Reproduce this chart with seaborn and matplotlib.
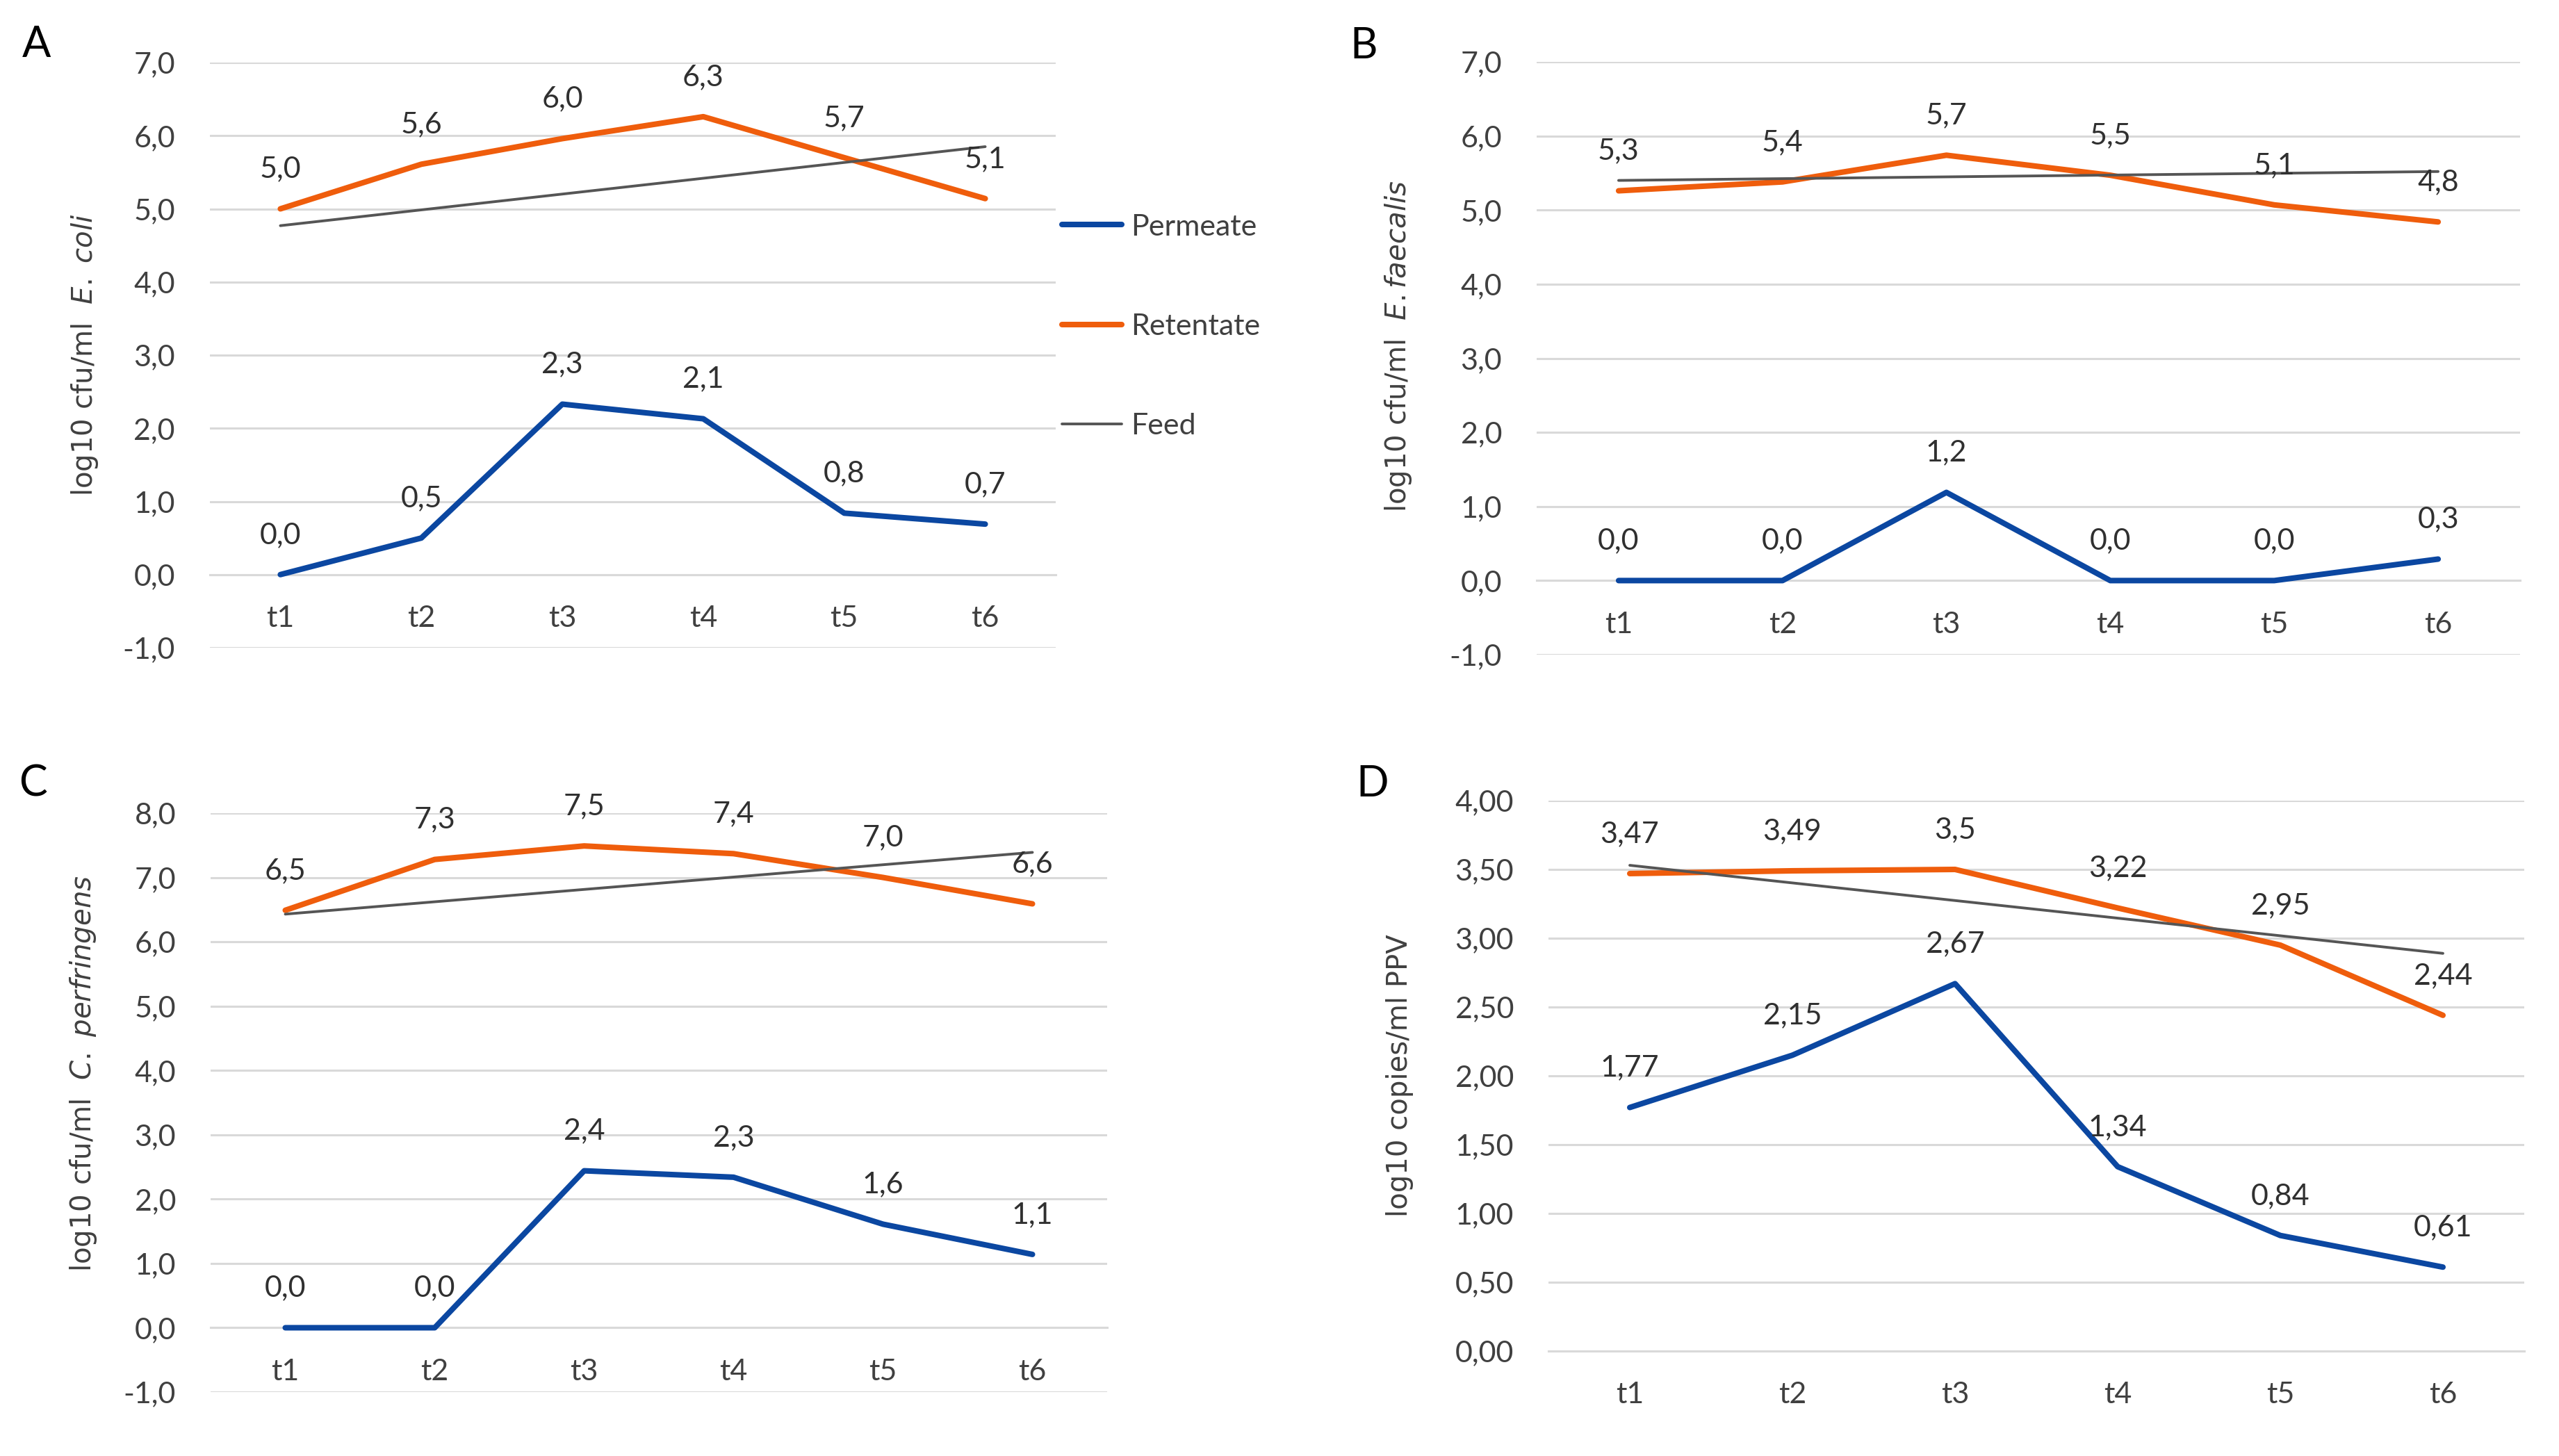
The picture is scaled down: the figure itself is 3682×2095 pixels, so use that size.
import matplotlib
matplotlib.use("Agg")
import matplotlib.pyplot as plt
import seaborn as sns
from matplotlib.ticker import FuncFormatter, MultipleLocator

# time points
times = ["t1", "t2", "t3", "t4", "t5", "t6"]
feed_times = ["t1", "t6"]

# A - E. coli
perm_A = [0.0, 0.50, 2.33, 2.13, 0.84, 0.69]
ret_A = [5.0, 5.61, 5.96, 6.26, 5.70, 5.14]
feed_A = [4.77, 5.85]

# B - E. faecalis
perm_B = [0.0, 0.0, 1.19, 0.0, 0.0, 0.29]
ret_B = [5.26, 5.38, 5.74, 5.47, 5.07, 4.84]
feed_B = [5.40, 5.52]

# C - C. perfringens
perm_C = [0.0, 0.0, 2.44, 2.34, 1.61, 1.14]
ret_C = [6.49, 7.28, 7.49, 7.37, 7.0, 6.59]
feed_C = [6.43, 7.39]

# D - PPV
perm_D = [1.77, 2.15, 2.67, 1.34, 0.84, 0.61]
ret_D = [3.47, 3.49, 3.50, 3.22, 2.95, 2.44]
feed_D = [3.53, 2.89]

series_names = ["Permeate", "Retentate", "Feed"]

BLUE = "#0b47a1"
ORANGE = "#ef5d0c"
GRAY = "#555555"
GRID = "#d9d9d9"
TXT = "#404040"

sns.set_style("white")
plt.rcParams["font.family"] = ["Lato", "DejaVu Sans"]
plt.rcParams["mathtext.fontset"] = "dejavusans"

fig = plt.figure(figsize=(18.41, 10.475), dpi=200)
W, H = 3682, 2095


def make_ax(l, t, r, b):
    return fig.add_axes([l / W, 1 - b / H, (r - l) / W, (b - t) / H])


def fmt(dec):
    return FuncFormatter(lambda v, _: f"{v:.{dec}f}".replace(".", ","))


def panel(ax, perm, ret, feed, ylim, step, dec, ylabel, lab_x, lab_y, lab_fmt):
    sns.lineplot(x=times, y=perm, color=BLUE, lw=2.9, ax=ax, legend=False,
                 label=series_names[0], zorder=3)
    sns.lineplot(x=times, y=ret, color=ORANGE, lw=2.9, ax=ax, legend=False,
                 label=series_names[1], zorder=3)
    sns.lineplot(x=feed_times, y=feed, color=GRAY, lw=1.4, ax=ax, legend=False,
                 label=series_names[2], zorder=3)
    for vals in (perm, ret):
        for i, v in enumerate(vals):
            ax.annotate(lab_fmt(v).replace(".", ","), (i, v), xytext=(0, 20.5),
                        textcoords="offset points", ha="center", va="center",
                        fontsize=15.5, color="#303030")
    ax.set_xlim(-0.5, 5.5)
    ax.set_ylim(*ylim)
    ax.yaxis.set_major_locator(MultipleLocator(step))
    ax.yaxis.set_major_formatter(fmt(dec))
    ax.set_axisbelow(True)
    ax.yaxis.grid(True, color=GRID, lw=1.1)
    ax.xaxis.grid(False)
    for s in ["left", "right", "top"]:
        ax.spines[s].set_visible(False)
    ax.spines["bottom"].set_position(("data", 0))
    ax.spines["bottom"].set_color(GRID)
    ax.spines["bottom"].set_linewidth(1.1)
    ax.spines["bottom"].set_zorder(0.5)
    ax.tick_params(axis="y", length=0, pad=18, labelsize=15.5, labelcolor=TXT)
    ax.tick_params(axis="x", length=0, pad=16, labelsize=15.5, labelcolor=TXT)
    ax.set_xlabel("")
    ax.set_ylabel(ylabel, fontsize=14.5, color=TXT, family="DejaVu Sans")
    ax.yaxis.set_label_coords(lab_x, lab_y)


one_dec = lambda v: f"{v:.1f}"
gen = lambda v: f"{v:g}"

axA = make_ax(302, 90, 1519, 932)
panel(axA, perm_A, ret_A, feed_A, (-1, 7), 1, 1,
      r"log10 cfu/ml  $\it{E.\ coli}$", -0.13, 0.5, one_dec)

axB = make_ax(2211, 89, 3626, 942)
panel(axB, perm_B, ret_B, feed_B, (-1, 7), 1, 1,
      r"log10 cfu/ml  $\it{E.faecalis}$", -0.125, 0.52, one_dec)

axC = make_ax(303, 1170, 1593, 2003)
panel(axC, perm_C, ret_C, feed_C, (-1, 8), 1, 1,
      r"log10 cfu/ml  $\it{C.\ perfringens}$", -0.125, 0.55, one_dec)

axD = make_ax(2228, 1152, 3632, 1944)
panel(axD, perm_D, ret_D, feed_D, (0, 4), 0.5, 2,
      "log10 copies/ml PPV", -0.138, 0.5, gen)

axA.legend(axA.lines[:3], series_names, loc="center left",
           bbox_to_anchor=(1528 / W, 1 - 470 / H), bbox_transform=fig.transFigure,
           frameon=False, fontsize=15.5, handlelength=2.0, handletextpad=0.3,
           labelspacing=2.45, borderpad=0, borderaxespad=0, labelcolor=TXT)

for letter, (x, y) in zip("ABCD", [(52, 65), (1962, 66), (47, 1128), (1975, 1128)]):
    fig.text(x / W, 1 - y / H, letter, fontsize=22, ha="center", va="center", color="black")

fig.savefig("out.png", dpi=200)
